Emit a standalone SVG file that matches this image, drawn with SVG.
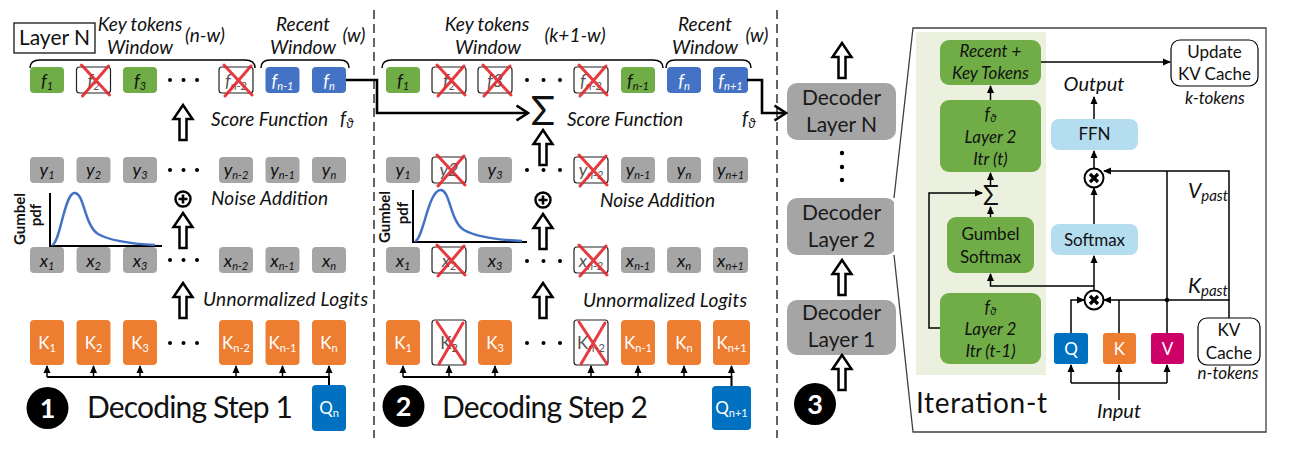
<svg xmlns="http://www.w3.org/2000/svg" width="1293" height="457" viewBox="0 0 1293 457">
<style>
text{font-family:Lato,"Liberation Sans",sans-serif;fill:#111}
.i{font-style:italic}
.m{text-anchor:middle}
.g{fill:#70AD47}.b{fill:#4472C4}.gr{fill:#A5A5A5}.o{fill:#ED7D31}.q{fill:#0070C0}.v{fill:#CC0066}.lb{fill:#B4DEF0}
.cx{fill:#fff;stroke:#222;stroke-width:1.2}
.rx{stroke:#E3262B;stroke-width:3;fill:none;stroke-linecap:round;opacity:.9}
.ha{fill:#fff;stroke:#000;stroke-width:2.5}
.ft{font-size:18px;font-style:italic;text-anchor:middle}
.kt{font-size:17px;text-anchor:middle;fill:#fff}
.wt{fill:#fff}
.dim{fill:#555}
.sub{font-size:11px}
.lab{font-size:19px;font-style:italic}
.thick{fill:none;stroke:#000;stroke-width:2.6}
.thin{fill:none;stroke:#000;stroke-width:1.5}
.dash{fill:none;stroke:#333;stroke-width:1.5;stroke-dasharray:9 5}
.dec{fill:#A5A5A5}
.dt{font-size:21px;text-anchor:middle;fill:#1a1a1a}
.gt{font-size:17px;text-anchor:middle;fill:#111}
.num{font-size:27px;font-weight:bold;fill:#fff;text-anchor:middle}
.step{font-size:30px;fill:#111}
</style>
<defs>
<marker id="a" markerUnits="userSpaceOnUse" markerWidth="8" markerHeight="8" refX="7" refY="4" orient="auto"><path d="M0,0.5 L8,4 L0,7.5 z" fill="#000"/></marker>
<marker id="c" markerUnits="userSpaceOnUse" viewBox="0 0 14 18" markerWidth="14" markerHeight="18" refX="12.5" refY="9" orient="auto"><path d="M1,1.5 L12.5,9 L1,16.5" fill="none" stroke="#000" stroke-width="2.6"/></marker>
<path id="ha" class="ha" d="M0,0 L9.5,14 L3.5,14 L3.5,35 L-3.5,35 L-3.5,14 L-9.5,14 Z"/>
<path id="xs" class="rx" d="M5,-2 L33,28 M32,-1 L6,29"/>
<path id="xt" class="rx" d="M5,2 L33,44 M31,3 L7,44"/>
<g id="plus"><circle r="7.5" fill="#fff" stroke="#000" stroke-width="2.4"/><path d="M-4.5,0 H4.5 M0,-4.5 V4.5" stroke="#000" stroke-width="2.6"/></g>
<g id="times"><circle r="9.5" fill="#fff" stroke="#000" stroke-width="2"/><path d="M-4,-4 L4,4 M4,-4 L-4,4" stroke="#000" stroke-width="3.2"/></g>
</defs>
<rect width="1293" height="457" fill="#fff"/>

<!-- dashed separators -->
<path class="dash" d="M374,10 V438 M777,10 V438"/>

<!-- ================= PANEL 1 ================= -->
<g id="layerN-label"><rect x="14" y="23" width="81" height="30" fill="#fff" stroke="#000" stroke-width="1.2"/><text x="54.5" y="45" class="m" font-size="21">Layer N</text></g>
<g id="p1-labels">
<text class="lab m" x="140" y="31">Key tokens</text>
<text class="lab m" x="140" y="54">Window</text>
<text class="lab m" x="205" y="42">(n-w)</text>
<text class="lab m" x="303" y="31">Recent</text>
<text class="lab m" x="303" y="54">Window</text>
<text class="lab m" x="354" y="42">(w)</text>
<path class="thin" d="M30,68 Q30,60 40,60 L245,60 Q255,60 255,68 M261,68 Q261,60 270,60 L340,60 Q349,60 349,68"/>
</g>
<!-- f row -->
<g id="p1-f1"><rect class="g" x="30" y="67" width="34" height="26" rx="4"/><text class="ft" x="47" y="87">f<tspan class="sub" dy="3">1</tspan></text></g>
<g id="p1-f2"><rect class="cx" x="76.5" y="67" width="34" height="26" rx="3"/><text class="ft dim" x="93.5" y="87">f<tspan class="sub" dy="3">2</tspan></text><use href="#xs" x="76.5" y="67"/></g>
<g id="p1-f3"><rect class="g" x="123" y="67" width="34" height="26" rx="4"/><text class="ft" x="140" y="87">f<tspan class="sub" dy="3">3</tspan></text></g>
<g id="p1-f4"><rect class="cx" x="219" y="67" width="34" height="26" rx="3"/><text class="ft dim" x="236" y="87">f<tspan class="sub" dy="3">n-2</tspan></text><use href="#xs" x="219" y="67"/></g>
<g id="p1-f5"><rect class="b" x="265.5" y="67" width="34" height="26" rx="4"/><text class="ft wt" x="282.5" y="87">f<tspan class="sub" dy="3">n-1</tspan></text></g>
<g id="p1-f6"><rect class="b" x="312" y="67" width="34" height="26" rx="4"/><text class="ft wt" x="329" y="87">f<tspan class="sub" dy="3">n</tspan></text></g>
<g id="p1-dots" fill="#000">
<circle cx="170" cy="80" r="2"/><circle cx="183.5" cy="80" r="2"/><circle cx="197" cy="80" r="2"/>
<circle cx="170" cy="170" r="2"/><circle cx="183.5" cy="170" r="2"/><circle cx="197" cy="170" r="2"/>
<circle cx="170" cy="260" r="2"/><circle cx="183.5" cy="260" r="2"/><circle cx="197" cy="260" r="2"/>
<circle cx="170" cy="343" r="2"/><circle cx="183.5" cy="343" r="2"/><circle cx="197" cy="343" r="2"/>
</g>
<use href="#ha" x="183" y="105"/>
<text class="lab" x="211" y="126" textLength="117">Score Function</text>
<text class="lab" x="340" y="125" font-size="20">f<tspan font-size="13" dy="3">ϑ</tspan></text>
<!-- y row -->
<g id="p1-y1"><rect class="gr" x="30" y="157" width="34" height="26" rx="4"/><text class="ft" x="47" y="176">y<tspan class="sub" dy="3">1</tspan></text></g>
<g id="p1-y2"><rect class="gr" x="76.5" y="157" width="34" height="26" rx="4"/><text class="ft" x="93.5" y="176">y<tspan class="sub" dy="3">2</tspan></text></g>
<g id="p1-y3"><rect class="gr" x="123" y="157" width="34" height="26" rx="4"/><text class="ft" x="140" y="176">y<tspan class="sub" dy="3">3</tspan></text></g>
<g id="p1-y4"><rect class="gr" x="219" y="157" width="34" height="26" rx="4"/><text class="ft" x="236" y="176">y<tspan class="sub" dy="3">n-2</tspan></text></g>
<g id="p1-y5"><rect class="gr" x="265.5" y="157" width="34" height="26" rx="4"/><text class="ft" x="282.5" y="176">y<tspan class="sub" dy="3">n-1</tspan></text></g>
<g id="p1-y6"><rect class="gr" x="312" y="157" width="34" height="26" rx="4"/><text class="ft" x="329" y="176">y<tspan class="sub" dy="3">n</tspan></text></g>
<use href="#plus" x="183" y="199"/>
<text class="lab" x="211" y="205" textLength="117">Noise Addition</text>
<use href="#ha" x="183" y="213"/>
<g id="p1-gumbel">
<path d="M50,193 V246 H162" fill="none" stroke="#000" stroke-width="2"/>
<path d="M52,245 C60,244 64,195 74,193 C84,191 84,225 98,234 C112,242 135,244 155,245" fill="none" stroke="#4472C4" stroke-width="2.5"/>
<text transform="translate(25,219) rotate(-90)" class="m" font-size="15" font-weight="bold">Gumbel</text>
<text transform="translate(41,215) rotate(-90)" class="m" font-size="15" font-weight="bold">pdf</text>
</g>
<!-- x row -->
<g id="p1-x1"><rect class="gr" x="30" y="247" width="34" height="26" rx="4"/><text class="ft" x="47" y="267">x<tspan class="sub" dy="3">1</tspan></text></g>
<g id="p1-x2"><rect class="gr" x="76.5" y="247" width="34" height="26" rx="4"/><text class="ft" x="93.5" y="267">x<tspan class="sub" dy="3">2</tspan></text></g>
<g id="p1-x3"><rect class="gr" x="123" y="247" width="34" height="26" rx="4"/><text class="ft" x="140" y="267">x<tspan class="sub" dy="3">3</tspan></text></g>
<g id="p1-x4"><rect class="gr" x="219" y="247" width="34" height="26" rx="4"/><text class="ft" x="236" y="267">x<tspan class="sub" dy="3">n-2</tspan></text></g>
<g id="p1-x5"><rect class="gr" x="265.5" y="247" width="34" height="26" rx="4"/><text class="ft" x="282.5" y="267">x<tspan class="sub" dy="3">n-1</tspan></text></g>
<g id="p1-x6"><rect class="gr" x="312" y="247" width="34" height="26" rx="4"/><text class="ft" x="329" y="267">x<tspan class="sub" dy="3">n</tspan></text></g>
<use href="#ha" x="183" y="283"/>
<text class="lab" x="203" y="306" textLength="165">Unnormalized Logits</text>
<!-- K row -->
<g id="p1-k1"><rect class="o" x="30" y="320" width="34" height="45" rx="4"/><text class="kt" x="47" y="349">K<tspan class="sub" dy="3">1</tspan></text></g>
<g id="p1-k2"><rect class="o" x="76.5" y="320" width="34" height="45" rx="4"/><text class="kt" x="93.5" y="349">K<tspan class="sub" dy="3">2</tspan></text></g>
<g id="p1-k3"><rect class="o" x="123" y="320" width="34" height="45" rx="4"/><text class="kt" x="140" y="349">K<tspan class="sub" dy="3">3</tspan></text></g>
<g id="p1-k4"><rect class="o" x="219" y="320" width="34" height="45" rx="4"/><text class="kt" x="236" y="349">K<tspan class="sub" dy="3">n-2</tspan></text></g>
<g id="p1-k5"><rect class="o" x="265.5" y="320" width="34" height="45" rx="4"/><text class="kt" x="282.5" y="349">K<tspan class="sub" dy="3">n-1</tspan></text></g>
<g id="p1-k6"><rect class="o" x="312" y="320" width="34" height="45" rx="4"/><text class="kt" x="329" y="349">K<tspan class="sub" dy="3">n</tspan></text></g>
<g id="p1-qn"><rect class="q" x="312" y="385" width="34" height="46" rx="4"/><text class="kt" x="329" y="414">Q<tspan class="sub" dy="3">n</tspan></text></g>
<g id="p1-step"><circle cx="47.5" cy="408" r="21" fill="#000"/><text class="num" x="47.5" y="418">1</text><text class="step" x="87" y="418" textLength="206">Decoding Step 1</text></g>

<!-- ================= PANEL 2 ================= -->
<g id="p2-labels">
<text class="lab m" x="487" y="31">Key tokens</text>
<text class="lab m" x="488" y="54">Window</text>
<text class="lab m" x="575" y="42">(k+1-w)</text>
<text class="lab m" x="705" y="31">Recent</text>
<text class="lab m" x="705" y="54">Window</text>
<text class="lab m" x="757" y="42">(w)</text>
<path class="thin" d="M382,68 Q382,60 392,60 L653,60 Q663,60 663,68 M666,68 Q666,60 675,60 L742,60 Q751,60 751,68"/>
</g>
<g id="p2-f1"><rect class="g" x="386" y="67" width="34" height="26" rx="4"/><text class="ft" x="403" y="87">f<tspan class="sub" dy="3">1</tspan></text></g>
<g id="p2-f2"><rect class="cx" x="432" y="67" width="34" height="26" rx="3"/><text class="ft dim" x="449" y="87">f<tspan class="sub" dy="3">2</tspan></text><use href="#xs" x="432" y="67"/></g>
<g id="p2-f3"><rect class="cx" x="478" y="67" width="34" height="26" rx="3"/><text class="ft dim" x="495" y="87">f3</text><use href="#xs" x="478" y="67"/></g>
<g id="p2-f4"><rect class="cx" x="574" y="67" width="34" height="26" rx="3"/><text class="ft dim" x="591" y="87">f<tspan class="sub" dy="3">n-2</tspan></text><use href="#xs" x="574" y="67"/></g>
<g id="p2-f5"><rect class="g" x="621" y="67" width="34" height="26" rx="4"/><text class="ft" x="638" y="87">f<tspan class="sub" dy="3">n-1</tspan></text></g>
<g id="p2-f6"><rect class="b" x="667" y="67" width="34" height="26" rx="4"/><text class="ft wt" x="684" y="87">f<tspan class="sub" dy="3">n</tspan></text></g>
<g id="p2-f7"><rect class="b" x="713" y="67" width="35" height="26" rx="4"/><text class="ft wt" x="730.5" y="87">f<tspan class="sub" dy="3">n+1</tspan></text></g>
<g id="p2-dots" fill="#000">
<circle cx="527" cy="80" r="2"/><circle cx="543.5" cy="80" r="2"/><circle cx="560" cy="80" r="2"/>
<circle cx="527" cy="170" r="2"/><circle cx="543.5" cy="170" r="2"/><circle cx="560" cy="170" r="2"/>
<circle cx="527" cy="261" r="2"/><circle cx="543.5" cy="261" r="2"/><circle cx="560" cy="261" r="2"/>
<circle cx="527" cy="343" r="2"/><circle cx="543.5" cy="343" r="2"/><circle cx="560" cy="343" r="2"/>
</g>
<text x="543" y="125" class="m" font-family="'Liberation Serif',serif" font-size="40">Σ</text>
<text class="lab" x="567" y="126" textLength="116">Score Function</text>
<use href="#ha" x="543" y="130"/>
<g id="p2-y1"><rect class="gr" x="386" y="157" width="34" height="26" rx="4"/><text class="ft" x="403" y="176">y<tspan class="sub" dy="3">1</tspan></text></g>
<g id="p2-y2"><rect class="cx" x="432" y="157" width="34" height="26" rx="3"/><text class="ft dim" x="449" y="176">y2</text><use href="#xs" x="432" y="157"/></g>
<g id="p2-y3"><rect class="gr" x="478" y="157" width="34" height="26" rx="4"/><text class="ft" x="495" y="176">y<tspan class="sub" dy="3">3</tspan></text></g>
<g id="p2-y4"><rect class="cx" x="574" y="157" width="34" height="26" rx="3"/><text class="ft dim" x="591" y="176">y<tspan class="sub" dy="3">n-2</tspan></text><use href="#xs" x="574" y="157"/></g>
<g id="p2-y5"><rect class="gr" x="621" y="157" width="34" height="26" rx="4"/><text class="ft" x="638" y="176">y<tspan class="sub" dy="3">n-1</tspan></text></g>
<g id="p2-y6"><rect class="gr" x="667" y="157" width="34" height="26" rx="4"/><text class="ft" x="684" y="176">y<tspan class="sub" dy="3">n</tspan></text></g>
<g id="p2-y7"><rect class="gr" x="713" y="157" width="35" height="26" rx="4"/><text class="ft" x="730.5" y="176">y<tspan class="sub" dy="3">n+1</tspan></text></g>
<use href="#plus" x="543" y="200"/>
<text class="lab" x="600" y="207" textLength="115">Noise Addition</text>
<use href="#ha" x="543" y="214"/>
<g id="p2-gumbel">
<path d="M413,190 V242 H527" fill="none" stroke="#000" stroke-width="2"/>
<path d="M415,241 C423,240 428,192 440,190 C450,188 450,222 464,230 C478,238 500,240 522,241" fill="none" stroke="#4472C4" stroke-width="2.5"/>
<text transform="translate(390,217) rotate(-90)" class="m" font-size="15" font-weight="bold">Gumbel</text>
<text transform="translate(408,213) rotate(-90)" class="m" font-size="15" font-weight="bold">pdf</text>
</g>
<g id="p2-x1"><rect class="gr" x="386" y="247" width="34" height="26" rx="4"/><text class="ft" x="403" y="267">x<tspan class="sub" dy="3">1</tspan></text></g>
<g id="p2-x2"><rect class="cx" x="432" y="247" width="34" height="26" rx="3"/><text class="ft dim" x="449" y="267">x<tspan class="sub" dy="3">2</tspan></text><use href="#xs" x="432" y="247"/></g>
<g id="p2-x3"><rect class="gr" x="478" y="247" width="34" height="26" rx="4"/><text class="ft" x="495" y="267">x<tspan class="sub" dy="3">3</tspan></text></g>
<g id="p2-x4"><rect class="cx" x="574" y="247" width="34" height="26" rx="3"/><text class="ft dim" x="591" y="267">x<tspan class="sub" dy="3">n-2</tspan></text><use href="#xs" x="574" y="247"/></g>
<g id="p2-x5"><rect class="gr" x="621" y="247" width="34" height="26" rx="4"/><text class="ft" x="638" y="267">x<tspan class="sub" dy="3">n-1</tspan></text></g>
<g id="p2-x6"><rect class="gr" x="667" y="247" width="34" height="26" rx="4"/><text class="ft" x="684" y="267">x<tspan class="sub" dy="3">n</tspan></text></g>
<g id="p2-x7"><rect class="gr" x="713" y="247" width="35" height="26" rx="4"/><text class="ft" x="730.5" y="267">x<tspan class="sub" dy="3">n+1</tspan></text></g>
<use href="#ha" x="543" y="283"/>
<text class="lab" x="583" y="307" textLength="164">Unnormalized Logits</text>
<g id="p2-k1"><rect class="o" x="386" y="320" width="34" height="45" rx="4"/><text class="kt" x="403" y="349">K<tspan class="sub" dy="3">1</tspan></text></g>
<g id="p2-k2"><rect class="cx" x="432" y="320" width="34" height="45" rx="3"/><text class="kt dim" x="449" y="349">K<tspan class="sub" dy="3">2</tspan></text><use href="#xt" x="432" y="320"/></g>
<g id="p2-k3"><rect class="o" x="478" y="320" width="34" height="45" rx="4"/><text class="kt" x="495" y="349">K<tspan class="sub" dy="3">3</tspan></text></g>
<g id="p2-k4"><rect class="cx" x="574" y="320" width="34" height="45" rx="3"/><text class="kt dim" x="591" y="349">K<tspan class="sub" dy="3">n-2</tspan></text><use href="#xt" x="574" y="320"/></g>
<g id="p2-k5"><rect class="o" x="621" y="320" width="34" height="45" rx="4"/><text class="kt" x="638" y="349">K<tspan class="sub" dy="3">n-1</tspan></text></g>
<g id="p2-k6"><rect class="o" x="667" y="320" width="34" height="45" rx="4"/><text class="kt" x="684" y="349">K<tspan class="sub" dy="3">n</tspan></text></g>
<g id="p2-k7"><rect class="o" x="713" y="320" width="37" height="45" rx="4"/><text class="kt" x="731.5" y="349">K<tspan class="sub" dy="3">n+1</tspan></text></g>
<g id="p2-qn"><rect class="q" x="712" y="386" width="39" height="44" rx="4"/><text class="kt" x="731.5" y="414">Q<tspan class="sub" dy="3">n+1</tspan></text></g>
<g id="p2-step"><circle cx="403.5" cy="406" r="21" fill="#000"/><text class="num" x="403.5" y="416">2</text><text class="step" x="442" y="418" textLength="206">Decoding Step 2</text></g>

<!-- ================= PANEL 3 ================= -->
<g id="dec-N"><rect class="dec" x="787" y="83" width="109" height="57" rx="10"/><text class="dt" x="841.5" y="105">Decoder</text><text class="dt" x="841.5" y="132">Layer N</text></g>
<g id="dec-2"><rect class="dec" x="787" y="198" width="109" height="57" rx="10"/><text class="dt" x="841.5" y="220">Decoder</text><text class="dt" x="841.5" y="247">Layer 2</text></g>
<g id="dec-1"><rect class="dec" x="787" y="300" width="109" height="55" rx="10"/><text class="dt" x="841.5" y="320">Decoder</text><text class="dt" x="841.5" y="347">Layer 1</text></g>
<g fill="#000"><circle cx="842" cy="153" r="2.2"/><circle cx="842" cy="167" r="2.2"/><circle cx="842" cy="180" r="2.2"/></g>
<use href="#ha" x="842" y="43"/>
<use href="#ha" x="842" y="260"/>
<use href="#ha" x="842" y="355"/>
<g id="p3-step"><circle cx="815" cy="404" r="21" fill="#000"/><text class="num" x="815" y="414">3</text></g>

<!-- iteration panel frame -->
<g id="iter-frame">
<path d="M894,198 L913,28 H1266 V432 H913 L894,255" fill="#fff" stroke="#404040" stroke-width="1.3"/>
<rect x="916" y="32" width="130" height="343" fill="#EBF1DE"/>
<text x="916" y="413" font-size="28" textLength="131">Iteration-t</text>
</g>
<g id="n-recent"><rect class="g" x="940" y="40" width="101" height="45" rx="9"/><text class="gt i" x="990.5" y="57">Recent +</text><text class="gt i" x="990.5" y="79">Key Tokens</text></g>
<g id="n-itrt"><rect class="g" x="940" y="100" width="101" height="72" rx="9"/><text class="gt i" x="990.5" y="120">f<tspan font-size="11" dy="2">ϑ</tspan></text><text class="gt i" x="990.5" y="143">Layer 2</text><text class="gt i" x="990.5" y="165">Itr (t)</text></g>
<text x="991" y="205" class="m" font-family="'Liberation Serif',serif" font-size="26">Σ</text>
<g id="n-gumbel"><rect class="g" x="947" y="217" width="87" height="56" rx="9"/><text class="gt" x="990.5" y="240">Gumbel</text><text class="gt" x="990.5" y="263">Softmax</text></g>
<g id="n-itrt1"><rect class="g" x="940" y="293" width="101" height="71" rx="9"/><text class="gt i" x="990.5" y="313">f<tspan font-size="11" dy="2">ϑ</tspan></text><text class="gt i" x="990.5" y="335">Layer 2</text><text class="gt i" x="990.5" y="357">Itr (t-1)</text></g>
<g id="n-ffn"><rect class="lb" x="1051" y="119" width="87" height="31" rx="8"/><text class="gt" x="1094.5" y="140">FFN</text></g>
<g id="n-softmax"><rect class="lb" x="1051" y="224" width="87" height="31" rx="8"/><text class="gt" x="1094.5" y="246">Softmax</text></g>
<g id="n-update"><rect x="1171" y="40" width="87" height="46" rx="9" fill="#fff" stroke="#000" stroke-width="1.2"/><text class="gt" x="1214.5" y="58">Update</text><text class="gt" x="1214.5" y="80">KV Cache</text></g>
<text class="gt i" x="1215" y="104">k-tokens</text>
<text class="i m" x="1094" y="91" font-size="20">Output</text>
<g id="n-kvcache"><rect x="1198" y="318" width="62" height="47" rx="9" fill="#fff" stroke="#000" stroke-width="1.2"/><text class="gt" x="1229" y="336">KV</text><text class="gt" x="1229" y="359">Cache</text></g>
<text class="gt i" x="1228" y="379">n-tokens</text>
<g id="n-q"><rect class="q" x="1054" y="333" width="34" height="31" rx="3"/><text class="kt" x="1071" y="355">Q</text></g>
<g id="n-k"><rect class="o" x="1103" y="333" width="33" height="31" rx="3"/><text class="kt" x="1119.5" y="355">K</text></g>
<g id="n-v"><rect class="v" x="1151" y="333" width="33" height="31" rx="3"/><text class="kt" x="1167.5" y="355">V</text></g>
<text class="i" x="1188" y="198" font-size="21">V<tspan font-size="15" dy="3">past</tspan></text>
<text class="i" x="1188" y="293" font-size="21">K<tspan font-size="15" dy="3">past</tspan></text>
<text class="i m" x="1119" y="418" font-size="20">Input</text>

<!-- connectors -->
<g id="connectors">
<path class="thick" d="M346,80 H377 V113 H528" marker-end="url(#c)"/>
<path class="thick" d="M747,80 H762 V113 H786" marker-end="url(#c)"/>
<text class="lab" x="742" y="125" font-size="20">f<tspan font-size="13" dy="3">ϑ</tspan></text>
<!-- panel1 K connectors -->
<path d="M47,377 H329 V385" fill="none" stroke="#000" stroke-width="2"/>
<g class="thin" stroke-width="1.3">
<path d="M47,377 V366" marker-end="url(#a)"/><path d="M93.5,377 V366" marker-end="url(#a)"/><path d="M140,377 V366" marker-end="url(#a)"/><path d="M236,377 V366" marker-end="url(#a)"/><path d="M282.5,377 V366" marker-end="url(#a)"/><path d="M329,377 V366" marker-end="url(#a)"/>
</g>
<path d="M403,377 H731.5 V386" fill="none" stroke="#000" stroke-width="2"/>
<g class="thin" stroke-width="1.3">
<path d="M403,377 V366" marker-end="url(#a)"/><path d="M449,377 V366" marker-end="url(#a)"/><path d="M495,377 V366" marker-end="url(#a)"/><path d="M591,377 V366" marker-end="url(#a)"/><path d="M638,377 V366" marker-end="url(#a)"/><path d="M684,377 V366" marker-end="url(#a)"/><path d="M731.5,377 V366" marker-end="url(#a)"/>
</g>
<!-- iteration panel -->
<g class="thin">
<path d="M990.5,100 V86" marker-end="url(#a)"/>
<path d="M990.5,186 V173" marker-end="url(#a)"/>
<path d="M990.5,217 V207" marker-end="url(#a)"/>
<path d="M940,328 H929 V193 H982" marker-end="url(#a)"/>
<path d="M1094,286 H990.5 V274" marker-end="url(#a)"/>
<path d="M1094,291 V256" marker-end="url(#a)"/>
<path d="M1094,224 V188" marker-end="url(#a)"/>
<path d="M1094,169 V151" marker-end="url(#a)"/>
<path d="M1094,119 V97" marker-end="url(#a)"/>
<path d="M1041,62 H1170" marker-end="url(#a)"/>
<path d="M1229,318 V171 H1104" marker-end="url(#a)"/>
<path d="M1167,333 V171"/>
<path d="M1229,300 H1104" marker-end="url(#a)"/>
<path d="M1119,333 V300"/>
<path d="M1071,333 V300 H1084" marker-end="url(#a)"/>
<path d="M1071,383 H1167"/>
<path d="M1071,383 V365" marker-end="url(#a)"/>
<path d="M1119,400 V365" marker-end="url(#a)"/>
<path d="M1167,383 V365" marker-end="url(#a)"/>
</g>
<circle cx="1167" cy="300" r="2.2" fill="#000"/>
<use href="#times" x="1094" y="178"/>
<use href="#times" x="1094" y="300"/>
</g>
</svg>
